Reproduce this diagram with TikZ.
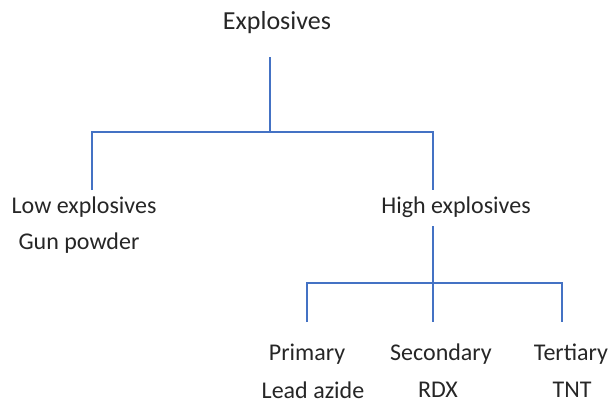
\documentclass[tikz,border=0pt]{standalone}
\usepackage{fontspec}
\setmainfont{Carlito}
\usetikzlibrary{positioning}

\definecolor{treeblue}{RGB}{68,114,196}
\tikzset{
  label/.style={inner sep=0pt, font=\fontsize{24}{28}\selectfont, text=black!85},
  toplabel/.style={label, font=\fontsize{26}{30}\selectfont},
  branch/.style={draw=treeblue, line width=1.3pt}
}

\begin{document}
\begin{tikzpicture}[x=1pt,y=-1pt]
		%%%%% START %%%%%
		\useasboundingbox (0,0) rectangle (613,405);
		
		% texts
		\node[toplabel] (expl) at (277,23) {Explosives};
		\node[label] (low) at (84,207) {Low explosives};
		\node[label] (gun) at (79,243) {Gun powder};
		\node[label] (high) at (456,207) {High explosives};
		\node[label] (prim) at (307,354) {Primary};
		\node[label] (sec) at (441,354) {Secondary};
		\node[label] (tert) at (571,354) {Tertiary};
		\node[label] (lead) at (313,390) {Lead azide};
		\node[label] (rdx) at (438,390) {RDX};
		\node[label] (tnt) at (572,390) {TNT};
		
		% line ends
		\coordinate (explfoot) at (270,57);
		\coordinate (hubtop) at (270,132);
		\coordinate (lowtop) at (92,190);
		\coordinate (hightop) at (433,190);
		\coordinate (highfoot) at (433,226);
		\coordinate (hubhigh) at (433,283);
		\coordinate (primtop) at (307,322);
		\coordinate (sectop) at (433,322);
		\coordinate (terttop) at (562,322);
		
		% tree
		\draw[branch] (explfoot) -- (hubtop);
		\draw[branch] (lowtop) |- (hubtop) -| (hightop);
		\draw[branch] (highfoot) -- (sectop);
		\draw[branch] (primtop) |- (hubhigh) -| (terttop);
		
		%%%%% END %%%%%
	\end{tikzpicture}
\end{document}
